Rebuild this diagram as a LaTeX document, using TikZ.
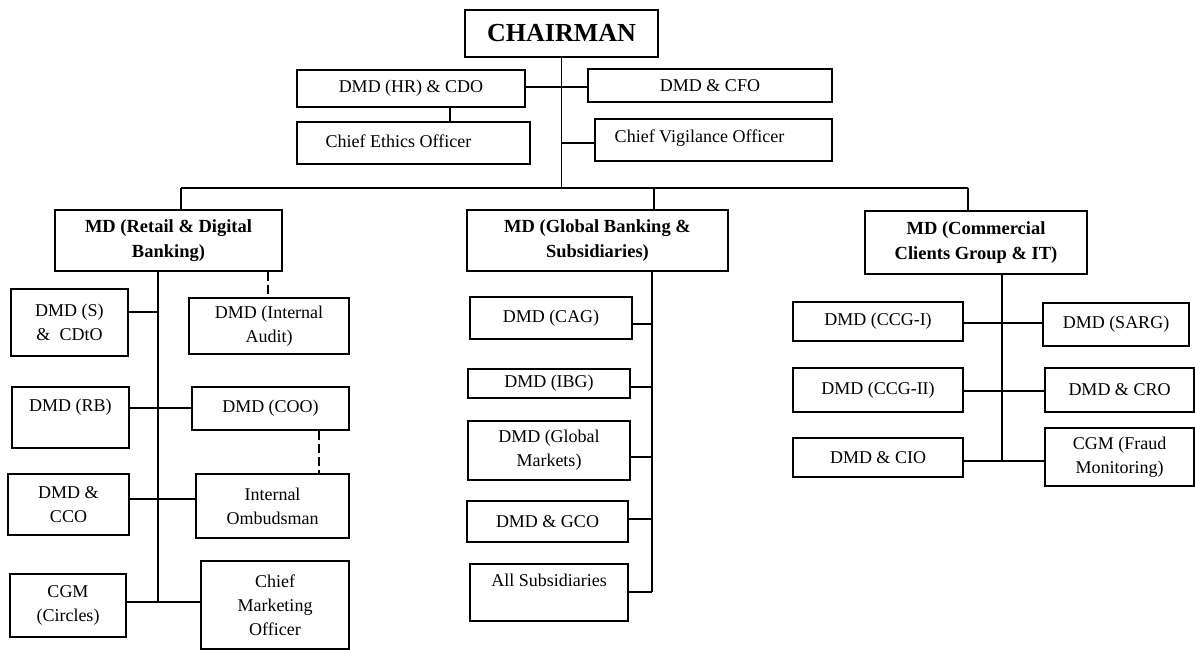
\documentclass[tikz,border=0pt]{standalone}
\usepackage{fontspec}
\setmainfont{Liberation Serif}
\begin{document}
\begin{tikzpicture}[x=1pt,y=-1pt,
  box/.style={draw,line width=1.5pt,inner sep=0pt,align=center,
    font=\fontsize{18}{24}\selectfont},
  boldbox/.style={box,font=\fontsize{18.5}{25}\selectfont\bfseries},
  conn/.style={line width=1.5pt},
  dconn/.style={line width=1.5pt,dash pattern=on 9pt off 4pt}]
\useasboundingbox (0,0) rectangle (1195,650);
\newcommand\obox[7][]{\node[box,#1,minimum width={(#5-#3)*1pt},minimum height={(#6-#4)*1pt}] (#2) at ({(#3+#5)/2},{(#4+#6)/2}) {#7};}
% top
\obox[boldbox,font=\fontsize{26}{30}\selectfont\bfseries]{chair}{465}{10}{658}{57}{CHAIRMAN}
\obox{hr}{297}{70}{525}{107}{DMD (HR) \& CDO}
\obox{cfo}{588}{69}{832}{102}{DMD \& CFO}
\obox{ethics}{297}{122}{530}{164}{Chief Ethics Officer\hspace{30pt}\rule[-4pt]{0pt}{1pt}}
\obox{vig}{595}{119}{832}{161}{Chief Vigilance Officer\hspace{28pt}\rule[-8pt]{0pt}{1pt}}
% MDs
\obox[boldbox]{mdr}{55}{210}{282}{271}{MD (Retail \& Digital\\Banking)}
\obox[boldbox]{mdg}{467}{210}{728}{271}{MD (Global Banking \&\\Subsidiaries)}
\obox[boldbox]{mdc}{865}{211}{1087}{274}{MD (Commercial\\Clients Group \& IT)}
% left group
\obox{dmds}{11}{289}{128}{356}{DMD (S)\\\&\ \ CDtO}
\obox{audit}{189}{298}{349}{354}{DMD (Internal\\Audit)}
\obox{rb}{12}{387}{129}{448}{DMD (RB)\\\mbox{}}
\obox{coo}{192}{387}{349}{430}{DMD (COO)}
\obox{cco}{8}{474}{129}{535}{DMD \&\\CCO}
\obox{omb}{196}{474}{349}{538}{Internal\\Ombudsman}
\obox{cgm}{10}{574}{126}{637}{CGM\\(Circles)}
\obox{cmo}{201}{561}{349}{649}{Chief\\Marketing\\Officer}
% middle group
\obox{cag}{470}{297}{632}{339}{DMD (CAG)}
\obox{ibg}{468}{369}{630}{398}{DMD (IBG)}
\obox{gm}{468}{421}{630}{480}{DMD (Global\\Markets)}
\obox{gco}{467}{501}{628}{542}{DMD \& GCO}
\obox{subs}{470}{564}{628}{621}{All Subsidiaries\\\mbox{}}
% right group
\obox{ccg1}{793}{302}{963}{341}{DMD (CCG-I)}
\obox{sarg}{1043}{303}{1189}{346}{DMD (SARG)}
\obox{ccg2}{793}{368}{963}{412}{DMD (CCG-II)}
\obox{cro}{1045}{368}{1194}{412}{DMD \& CRO}
\obox{cio}{793}{438}{963}{477}{DMD \& CIO}
\obox{fraud}{1045}{428}{1194}{486}{CGM (Fraud\\Monitoring)}
% connectors top
\coordinate (bL) at (181,188);
\coordinate (bR) at (968,188);
\draw[conn] (chair.south) -- (chair.south |- bL);
\draw[conn] (hr.east |- 0,87) -- (cfo.west |- 0,87);
\draw[conn] (hr.south -| 450,0) -- (ethics.north -| 450,0);
\draw[conn] (vig.west |- 0,143) -- (chair.south |- 0,143);
\draw[conn] (bL) -- (bR);
\draw[conn] (bL) -- (bL |- mdr.north);
\draw[conn] (654,188) -- (mdg.north -| 654,0);
\draw[conn] (bR) -- (bR |- mdc.north);
% left
\coordinate (lt) at (158,602);
\draw[conn] (mdr.south -| lt) -- (lt);
\draw[conn] (dmds.east |- 0,312) -- (lt |- 0,312);
\draw[conn] (rb.east |- 0,408) -- (coo.west |- 0,408);
\draw[conn] (cco.east |- 0,499) -- (omb.west |- 0,499);
\draw[conn] (cgm.east |- lt) -- (cmo.west |- lt);
\draw[dconn] (mdr.south -| 268,0) -- (audit.north -| 268,0);
\draw[dconn] (coo.south -| 319,0) -- (omb.north -| 319,0);
% middle
\coordinate (mt) at (652,592);
\draw[conn] (mdg.south -| mt) -- (mt);
\draw[conn] (cag.east |- 0,324) -- (mt |- 0,324);
\draw[conn] (ibg.east |- 0,387) -- (mt |- 0,387);
\draw[conn] (gm.east |- 0,457) -- (mt |- 0,457);
\draw[conn] (gco.east |- 0,519) -- (mt |- 0,519);
\draw[conn] (subs.east |- mt) -- (mt);
% right
\coordinate (rt) at (1002,461);
\draw[conn] (mdc.south -| rt) -- (rt);
\draw[conn] (ccg1.east |- 0,323) -- (sarg.west |- 0,323);
\draw[conn] (ccg2.east |- 0,391) -- (cro.west |- 0,391);
\draw[conn] (cio.east |- rt) -- (fraud.west |- rt);
\end{tikzpicture}
\end{document}
